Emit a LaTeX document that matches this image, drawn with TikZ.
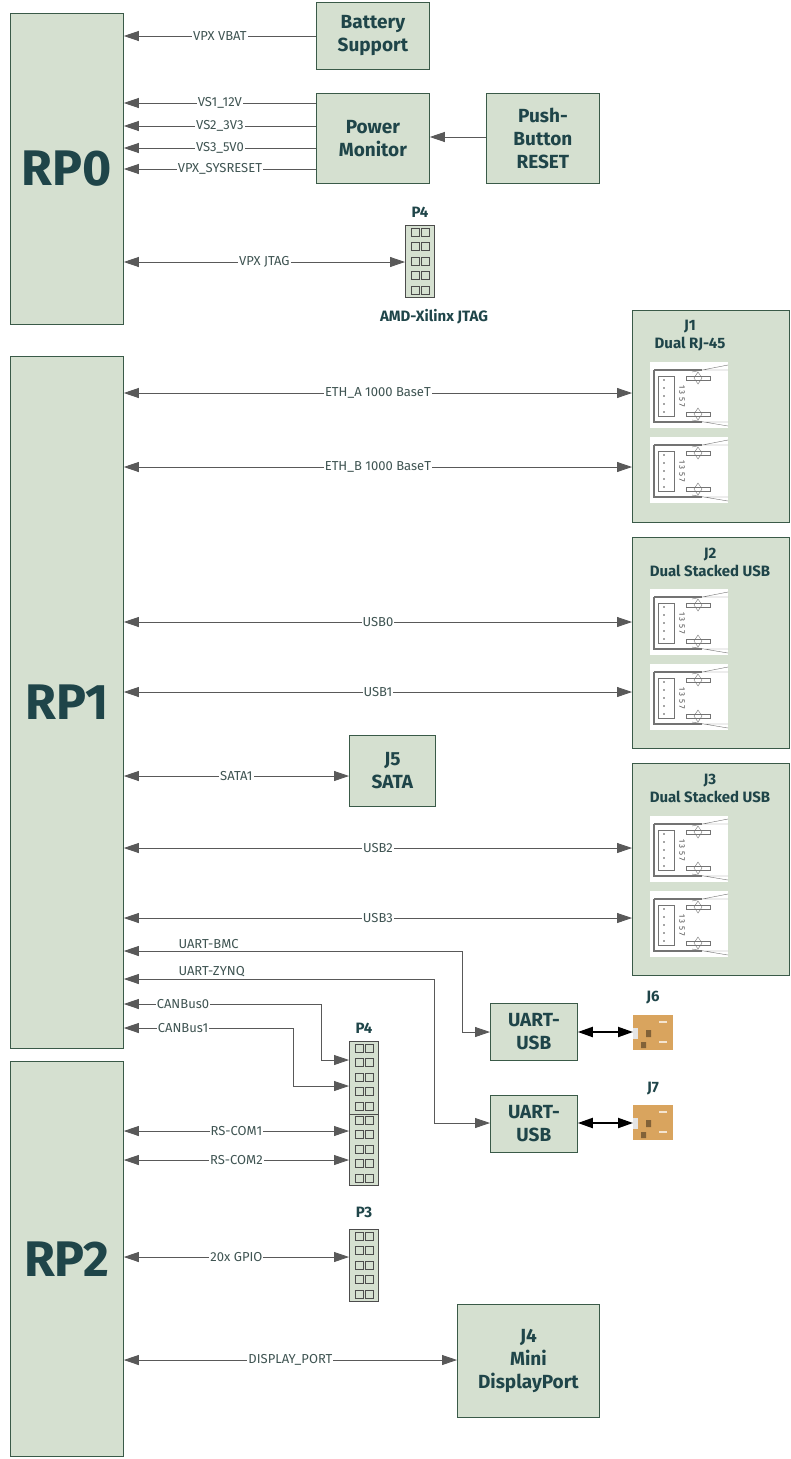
\documentclass[tikz,border=0pt]{standalone}
\usepackage{fontspec}
\setmainfont{Fira Sans}
\usetikzlibrary{arrows.meta,positioning}
\definecolor{boxfill}{HTML}{D5E0D0}
\definecolor{boxline}{HTML}{3A5A48}
\definecolor{txt}{HTML}{1F4549}
\definecolor{lbl}{HTML}{3F5452}
\definecolor{usbor}{HTML}{D9A45E}
\newcommand{\pinhdr}[4]{% x, y, rows, name
  \node[draw=black!70, fill=boxfill, minimum width=29pt, minimum height=#3*14.4pt, inner sep=0pt, anchor=north west] (#4) at (#1,#2) {};
  \foreach \r in {1,...,#3} {
    \draw[black!70, thick] (#1+6,#2+\r*14.4-11) rectangle ++(8,8);
    \draw[black!70, thick] (#1+16,#2+\r*14.4-11) rectangle ++(8,8);
  }}
\begin{document}
\begin{tikzpicture}[x=1pt, y=-1pt,
    >={Triangle[length=7.5pt,width=5pt,scale=2]},
    every node/.style={font=\fontsize{13}{15}\selectfont, text=lbl},
    rp/.style={draw=boxline, thick, fill=boxfill, minimum width=113pt, anchor=north west, font=\fontsize{50}{52}\selectfont\bfseries, text=txt},
    blk/.style={draw=boxline, thick, fill=boxfill, anchor=north west, align=center, font=\fontsize{19}{23}\selectfont\bfseries, text=txt, inner sep=0pt},
    ttl/.style={font=\fontsize{15}{18}\selectfont\bfseries, text=txt, align=center},
    lab/.style={fill=white, inner sep=1pt},
    sig/.style={black!65, line width=0.8pt},
    jack/.pic={
      \fill[white] (0,0) rectangle (78,66);
      \draw[black!55, line width=1.2pt] (4,8) -- (52,8) (4,8) -- (4,60) -- (52,60);
      \draw[black!55] (8,14) rectangle (24,54);
      \foreach \d in {20,28,36,44,52} \fill[black!70] (14,\d-2) circle (0.9);
      \node[rotate=-90, font=\fontsize{8}{8}\selectfont, text=black!70] at (32,34) {1 3 5 7};
      \draw[black!55] (42,10) -- (78,3) (42,58) -- (78,64) (52,8) -- (78,8) (52,60) -- (78,60);
      \draw[black!55] (36,14) rectangle (60,18) (36,50) rectangle (60,54);
      \draw[black!55] (48,10) -- (44,16) -- (48,22) -- (52,16) -- cycle;
      \draw[black!55] (48,46) -- (44,52) -- (48,58) -- (52,52) -- cycle;
    },
    musb/.pic={
      \fill[usbor] (0,0) rectangle (40,35);
      \fill[white!80!gray] (0,13) rectangle (5,24);
      \fill[black!40!usbor] (13,15) rectangle (18,22) (8,27) rectangle (13,33);
      \draw[white!70!usbor, line width=2pt] (26,7) -- (34,7) (26,27) -- (34,27);
    }
  ]
\useasboundingbox (0,0) rectangle (790,1459);

% RP blocks
\node[rp, minimum height=311pt] (rp0) at (10,13) {RP0};
\node[rp, minimum height=692pt] (rp1) at (10,356) {RP1};
\node[rp, minimum height=395pt] (rp2) at (10,1061) {RP2};

% Top boxes
\node[blk, minimum width=113pt, minimum height=67pt] (batt) at (316,2) {Battery\\Support};
\node[blk, minimum width=113pt, minimum height=90pt] (pmon) at (316,93) {Power\\Monitor};
\node[blk, minimum width=113pt, minimum height=90pt] (rst) at (486,93) {Push-\\Button\\RESET};
\node[blk, minimum width=86pt, minimum height=71pt] (sata) at (349,735) {J5\\SATA};
\node[blk, minimum width=87pt, minimum height=57pt] (uart1) at (490,1003) {UART-\\USB};
\node[blk, minimum width=87pt, minimum height=57pt] (uart2) at (490,1095) {UART-\\USB};
\node[blk, minimum width=142pt, minimum height=113pt] (dp) at (457,1304) {J4\\Mini\\DisplayPort};

% Connector boxes
\node[draw=boxline, thick, fill=boxfill, anchor=north west, minimum width=157pt, minimum height=212pt] (j1) at (632,310) {};
\node[draw=boxline, thick, fill=boxfill, anchor=north west, minimum width=157pt, minimum height=211pt] (j2) at (632,537) {};
\node[draw=boxline, thick, fill=boxfill, anchor=north west, minimum width=157pt, minimum height=212pt] (j3) at (632,763) {};
\node[ttl] at (690,336) {J1\\Dual RJ-45};
\node[ttl] at (710,562) {J2\\Dual Stacked USB};
\node[ttl] at (710,788) {J3\\Dual Stacked USB};
\foreach \y in {362,437} \pic at (650,\y) {jack};
\foreach \y in {589,664,816,891} \pic at (650,\y) {jack};

% Headers
\pinhdr{405}{225}{5}{jtag}
\node[ttl] at (420,212) {P4};
\node[ttl] at (434,317) {AMD-Xilinx JTAG};
\pinhdr{349}{1041}{10}{p4}
\draw[black!70] (349,1114) -- (378,1114);
\node[ttl] at (364,1028) {P4};
\pinhdr{349}{1229}{5}{p3}
\node[ttl] at (364,1212) {P3};

% Micro USB
\pic at (633,1015) {musb};
\pic at (633,1105) {musb};
\node[ttl] (j6) at (653,998) {J6};
\node[ttl] (j7) at (653,1089) {J7};
\coordinate (j6in) at (633,1032);
\coordinate (j7in) at (633,1123);

% Signals
\draw[sig, ->] (batt.west |- 0,36) -- node[lab]{VPX VBAT} (rp0.east |- 0,36);
\foreach \y/\t in {103/VS1\_12V, 126/VS2\_3V3, 148/VS3\_5V0, 169/VPX\_SYSRESET}
  \draw[sig, ->] (pmon.west |- 0,\y) -- node[lab]{\t} (rp0.east |- 0,\y);
\draw[sig, ->] (rst.west |- 0,137) -- (pmon.east |- 0,137);
\draw[sig, <->] (rp0.east |- 0,262) -- node[lab]{VPX JTAG} (jtag.west |- 0,262);
\draw[sig, <->] (rp1.east |- 0,393) -- node[lab]{ETH\_A 1000 BaseT} (j1.west |- 0,393);
\draw[sig, <->] (rp1.east |- 0,467) -- node[lab]{ETH\_B 1000 BaseT} (j1.west |- 0,467);
\draw[sig, <->] (rp1.east |- 0,622) -- node[lab]{USB0} (j2.west |- 0,622);
\draw[sig, <->] (rp1.east |- 0,692) -- node[lab]{USB1} (j2.west |- 0,692);
\draw[sig, <->] (rp1.east |- 0,776) -- node[lab]{SATA1} (sata.west |- 0,776);
\draw[sig, <->] (rp1.east |- 0,848) -- node[lab]{USB2} (j3.west |- 0,848);
\draw[sig, <->] (rp1.east |- 0,918) -- node[lab]{USB3} (j3.west |- 0,918);
\draw[sig, <->] (rp1.east |- 0,951) -- (462,951) |- (uart1.west |- 0,1032);
\node[anchor=south west] at (175,952) {UART-BMC};
\draw[sig, <->] (rp1.east |- 0,979) -- (434,979) |- (uart2.west |- 0,1123);
\node[anchor=south west] at (175,980) {UART-ZYNQ};
\draw[sig, <->] (rp1.east |- 0,1004) -- node[lab, pos=0.3]{CANBus0} (321,1004) |- (p4.west |- 0,1060);
\draw[sig, <->] (rp1.east |- 0,1028) -- node[lab, pos=0.35]{CANBus1} (293,1028) |- (p4.west |- 0,1086);
\draw[sig, <->] (rp2.east |- 0,1131) -- node[lab]{RS-COM1} (p4.west |- 0,1131);
\draw[sig, <->] (rp2.east |- 0,1160) -- node[lab]{RS-COM2} (p4.west |- 0,1160);
\draw[sig, <->] (rp2.east |- 0,1257) -- node[lab]{20x GPIO} (p3.west |- 0,1257);
\draw[sig, <->] (rp2.east |- 0,1360) -- node[lab]{DISPLAY\_PORT} (dp.west |- 0,1360);
\draw[black, line width=2pt, <->] (uart1.east |- 0,1032) -- (j6in);
\draw[black, line width=2pt, <->] (uart2.east |- 0,1123) -- (j7in);
\end{tikzpicture}
\end{document}
